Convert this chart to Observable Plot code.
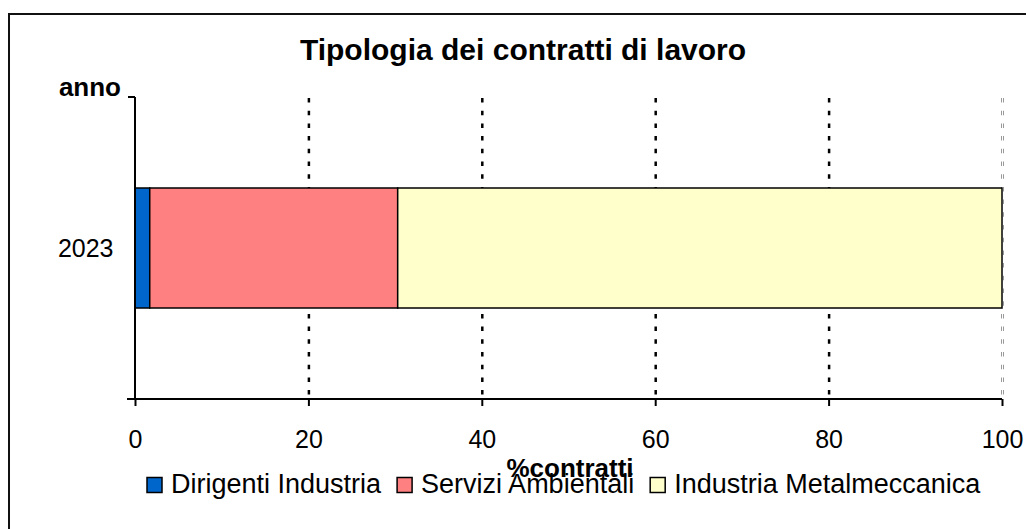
<!DOCTYPE html>
<html><head><meta charset="utf-8">
<script src="https://cdn.jsdelivr.net/npm/d3@7"></script>
<script src="https://cdn.jsdelivr.net/npm/@observablehq/plot@0.6"></script>
<style>
body{margin:0;background:#fff;}
#wrap{position:relative;width:1026px;height:529px;overflow:hidden;font-family:"Liberation Sans",Arial,sans-serif;background:#fff;}
#border{position:absolute;left:8px;top:13px;width:1100px;height:600px;border-left:2px solid #111;border-top:2px solid #111;}
#chart{position:absolute;left:0;top:0;}
#overlay{position:absolute;left:0;top:0;pointer-events:none;}
</style></head><body>
<div id="wrap"><div id="border"></div><div id="chart"></div><svg id="overlay" width="1026" height="529"></svg></div>
<script>
const years = ["2023"];
const series = ["Dirigenti Industria", "Servizi Ambientali", "Industria Metalmeccanica"];
const values = [1.7, 28.6, 69.7];
const colors = ["#0066CC", "#FF8080", "#FFFFCC"];
const xTicks = [0, 20, 40, 60, 80, 100];
const gridTicks = [20, 40, 60, 80];
const edgeTick = [100];
const title = "Tipologia dei contratti di lavoro";
const xLabel = "%contratti";
const yLabel = "anno";

const data = series.map((s, i) => ({anno: years[0], serie: s, valore: values[i]}));

function axesLines(index, scales, vals, dims) {
  const x0 = scales.x(0), x1 = scales.x(100);
  const top = dims.marginTop, bottom = dims.height - dims.marginBottom;
  const g = d3.create("svg:g").attr("stroke", "#000").attr("stroke-width", 2).attr("fill", "none");
  g.append("line").attr("x1", x0).attr("x2", x0).attr("y1", top).attr("y2", bottom);
  g.append("line").attr("x1", x0 - 8).attr("x2", x1).attr("y1", bottom).attr("y2", bottom);
  g.append("line").attr("x1", x0 - 7).attr("x2", x0).attr("y1", top).attr("y2", top);
  return g.node();
}

const plot = Plot.plot({
  width: 1026, height: 529,
  marginLeft: 135, marginRight: 24, marginTop: 97, marginBottom: 130,
  style: {fontFamily: "Liberation Sans, Arial, sans-serif", background: "transparent", color: "#000"},
  x: {domain: [0, 100]},
  y: {domain: years, paddingInner: 0.43, paddingOuter: 0.43},
  color: {domain: series, range: colors},
  marks: [
    Plot.ruleX(edgeTick, {stroke: "#999", strokeWidth: 3, strokeDasharray: "4.5,8.2", strokeDashoffset: -1}),
    Plot.ruleX(edgeTick, {stroke: "#fff", strokeWidth: 1}),
    Plot.ruleX(gridTicks, {stroke: "#000", strokeWidth: 2.5, strokeDasharray: "4.5,8.2", strokeDashoffset: -1}),
    Plot.barX(data, {y: "anno", x: "valore", fill: "serie", stroke: "#000", strokeWidth: 1.5}),
    axesLines,
    Plot.axisX({ticks: xTicks, tickSize: 7, tickPadding: 24, fontSize: 25, label: null, strokeWidth: 2}),
    Plot.axisY({tickSize: 0, tickPadding: 22, fontSize: 25, label: null})
  ]
});
document.getElementById("chart").appendChild(plot);

const ov = d3.select("#overlay").style("font-family", "Liberation Sans, Arial, sans-serif");
ov.append("text").attr("x", 523).attr("y", 60).attr("text-anchor", "middle")
  .attr("font-weight", "bold").attr("font-size", 30).text(title);
ov.append("text").attr("x", 121).attr("y", 96).attr("text-anchor", "end")
  .attr("font-weight", "bold").attr("font-size", 26).text(yLabel);

// legend
const lg = ov.append("g");
let lx = 147;
series.forEach((s, i) => {
  lg.append("rect").attr("x", lx).attr("y", 477.5).attr("width", 15).attr("height", 15)
    .attr("fill", colors[i]).attr("stroke", "#000").attr("stroke-width", 1.5);
  const t = lg.append("text").attr("x", lx + 24).attr("y", 493).attr("font-size", 27).text(s);
  lx = lx + 24 + t.node().getComputedTextLength() + 16;
});
ov.append("text").attr("x", 570).attr("y", 477).attr("text-anchor", "middle")
  .attr("font-weight", "bold").attr("font-size", 26).text(xLabel);
</script>
</body></html>
